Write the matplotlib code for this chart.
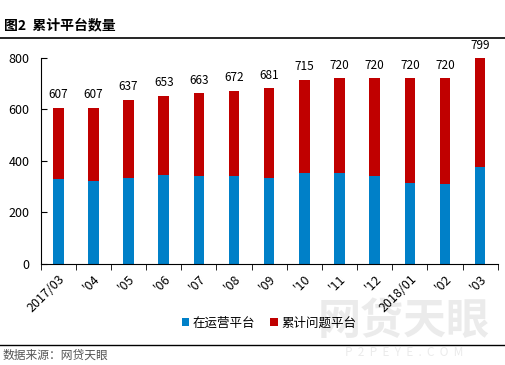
import numpy as np
import matplotlib.pyplot as plt

plt.rcParams['font.family'] = ['Noto Sans CJK SC', 'DejaVu Sans']

months = ["2017/03", "'04", "'05", "'06", "'07", "'08", "'09", "'10", "'11", "'12",
          "2018/01", "'02", "'03"]
totals = [607, 607, 637, 653, 663, 672, 681, 715, 720, 720, 720, 720, 799]
operating = [329, 322, 335, 345, 342, 342, 335, 353, 353, 342, 314, 310, 377]
problem = [t - o for t, o in zip(totals, operating)]

fig = plt.figure(figsize=(5.05, 3.65), dpi=100)
ax = fig.add_axes([0.0806, 0.2767, 0.905, 0.565])

x = np.arange(len(months))
ax.bar(x, operating, width=0.3, color='#0080C8', label='在运营平台')
ax.bar(x, problem, width=0.3, bottom=operating, color='#C00000', label='累计问题平台')

for xi, t in zip(x, totals):
    ax.text(xi, t + 25, str(t), ha='center', va='bottom', fontsize=8.5)

ax.set_xlim(-0.5, len(months) - 0.5)
ax.set_ylim(0, 800)
ax.set_yticks([0, 200, 400, 600, 800])
ax.tick_params(axis='y', direction='in', length=4, labelsize=9, pad=8)
ax.set_xticks(x)
ax.set_xticklabels(months, rotation=45, ha='right', rotation_mode='anchor', fontsize=9)
ax.tick_params(axis='x', length=0, pad=6)
ax.set_xticks(np.arange(len(months) + 1) - 0.5, minor=True)
ax.tick_params(axis='x', which='minor', direction='out', length=4)
for s in ['top', 'right']:
    ax.spines[s].set_visible(False)

ax.legend(loc='upper center', bbox_to_anchor=(0.5, -0.2), ncol=2, frameon=False,
          fontsize=9, handlelength=0.6, handleheight=0.6, handletextpad=0.3,
          columnspacing=1.2)

fig.text(0.008, 0.93, '图2  累计平台数量', fontsize=10, fontweight='bold', va='center')
fig.add_artist(plt.Line2D([0, 1], [0.897, 0.897], color='black', lw=1.2))
fig.add_artist(plt.Line2D([0, 1], [0.055, 0.055], color='black', lw=1))
fig.text(0.005, 0.028, '数据来源：网贷天眼', fontsize=8.5, color='#555555', va='center')

# watermark, behind everything
fig.text(0.80, 0.12, '网贷天眼', fontsize=31, fontweight='bold', color='#EBEBEB',
         ha='center', va='center', zorder=-1)
fig.text(0.80, 0.035, 'P  2  P  E  Y  E  .  C  O  M', fontsize=8.5, color='#EBEBEB',
         ha='center', va='center', zorder=-1)

fig.savefig('out.png', dpi=100)
